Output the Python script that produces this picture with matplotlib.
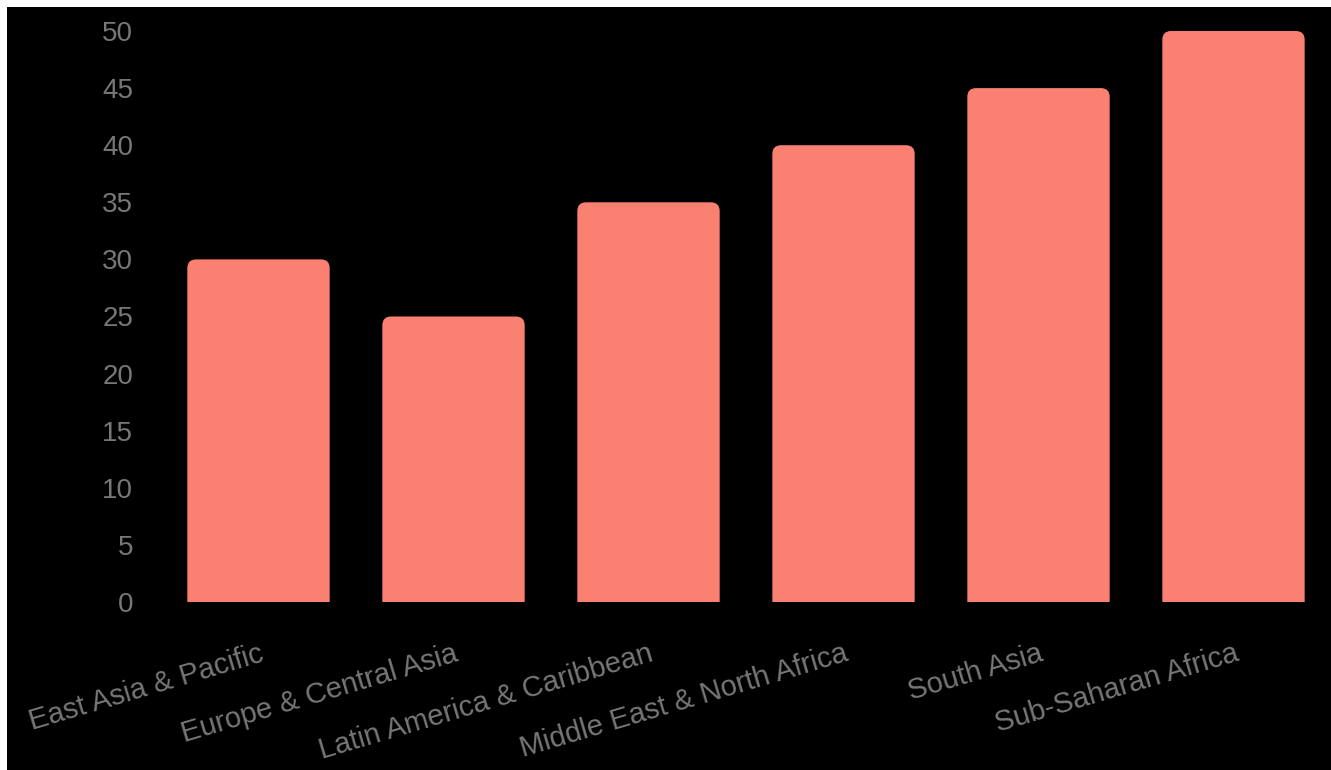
import matplotlib.pyplot as plt
from matplotlib.patches import FancyBboxPatch, Rectangle

regions = [
    "East Asia & Pacific",
    "Europe & Central Asia",
    "Latin America & Caribbean",
    "Middle East & North Africa",
    "South Asia",
    "Sub-Saharan Africa",
]
values = [30, 25, 35, 40, 45, 50]
yticks = [0, 5, 10, 15, 20, 25, 30, 35, 40, 45, 50]

bar_color = "#FA8072"
text_color = "#777777"

plt.rcParams["font.family"] = ["Liberation Sans", "DejaVu Sans"]

fig = plt.figure(figsize=(13.31, 7.70), dpi=100, facecolor="black")
# thin white strip along the top and left edges
fig.patches.append(Rectangle((0, 1 - 7 / 770), 1, 7 / 770, transform=fig.transFigure,
                             facecolor="white", edgecolor="none", zorder=-10))
fig.patches.append(Rectangle((0, 0), 7 / 1331, 1, transform=fig.transFigure,
                             facecolor="white", edgecolor="none", zorder=-10))

ax = fig.add_axes([161 / 1331, 1 - 602 / 770, 1170 / 1331, 571 / 770])
ax.set_facecolor("black")
ax.set_xlim(-0.5, len(regions) - 0.5)
ax.set_ylim(0, 50)

# data units per pixel (y over x) so the corners come out round
px_w = ax.get_position().width * fig.get_figwidth() * fig.dpi
px_h = ax.get_position().height * fig.get_figheight() * fig.dpi
aspect = (50 / px_h) / (len(regions) / px_w)

width = 0.73
for i, v in enumerate(values):
    p = FancyBboxPatch((i - width / 2, -3), width, v + 3,
                       boxstyle="round,pad=0,rounding_size=0.045",
                       mutation_aspect=aspect,
                       facecolor=bar_color, edgecolor="none")
    ax.add_patch(p)

ax.set_xticks(range(len(regions)))
ax.set_xticklabels(regions, rotation=16.5, ha="right", rotation_mode="anchor",
                   fontsize=21, color=text_color)
ax.set_yticks(yticks)
ax.set_yticklabels([str(t) for t in yticks], fontsize=20, color=text_color)
ax.tick_params(axis="both", length=0)
ax.tick_params(axis="y", pad=20)
ax.tick_params(axis="x", pad=27)
for s in ax.spines.values():
    s.set_visible(False)

fig.savefig("out.png", dpi=100, facecolor=fig.get_facecolor())
